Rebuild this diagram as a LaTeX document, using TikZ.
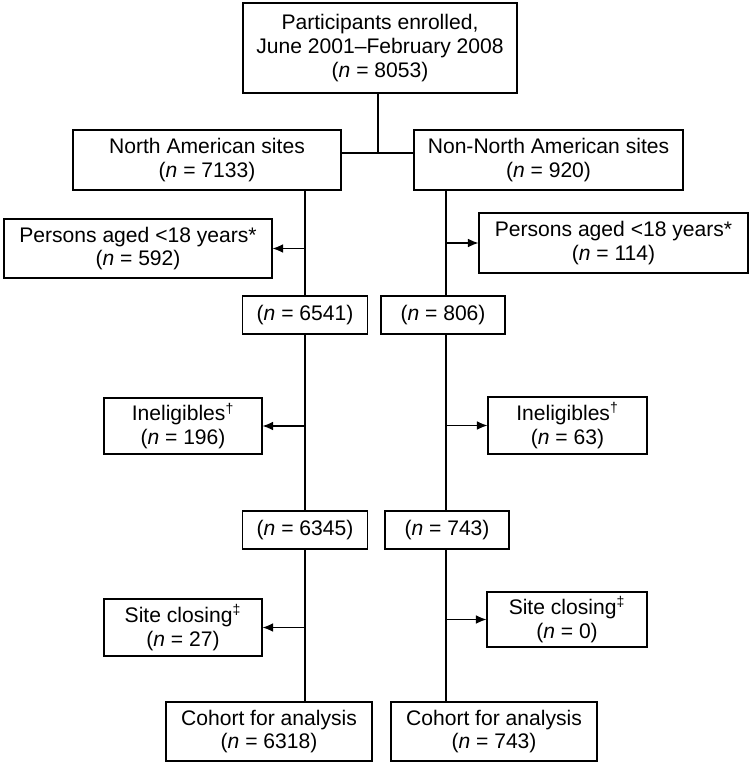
\documentclass[tikz,border=0pt]{standalone}
\usepackage{fontspec}
\setmainfont{Liberation Sans}
\usetikzlibrary{arrows.meta}

\begin{document}
\begin{tikzpicture}[x=0.02cm,y=-0.02cm,
    box/.style={draw,line width=0.7pt,align=center,inner sep=0pt,
        font=\fontsize{12}{13.6}\selectfont},
    link/.style={line width=0.7pt},
    arr/.style={line width=0.7pt,-{Latex[length=6pt,width=5pt]}}]
    \useasboundingbox (0,0) rectangle (750,766);

    % enrolment and split by region
    \node[box,minimum width=5.48cm,minimum height=1.8cm] (enrol) at (380,48)
        {Participants enrolled,\\June 2001–February 2008\\(\textit{n} = 8053)};
    \node[box,minimum width=5.36cm,minimum height=1.2cm] (na) at (207,160)
        {North American sites\\(\textit{n} = 7133)};
    \node[box,minimum width=5.38cm,minimum height=1.2cm] (nna) at (548.5,160)
        {Non-North American sites\\(\textit{n} = 920)};
    \coordinate (split) at (378,153);
    \draw[link] (enrol.south -| split) -- (split);
    \draw[link] (na.east |- split) -- (nna.west |- split);

    % north american column
    \node[box,minimum width=5.36cm,minimum height=1.18cm] (agel) at (138,248.5)
        {Persons aged <18 years*\\(\textit{n} = 592)};
    \node[box,minimum width=2.5cm,minimum height=0.76cm] (nal1) at (305,315)
        {(\textit{n} = 6541)};
    \node[box,minimum width=3.16cm,minimum height=1.12cm] (inell) at (183,426)
        {Ineligibles\textsuperscript{†}\\(\textit{n} = 196)};
    \node[box,minimum width=2.5cm,minimum height=0.76cm] (nal2) at (305,530)
        {(\textit{n} = 6345)};
    \node[box,minimum width=3.16cm,minimum height=1.14cm] (sitel) at (183,627.5)
        {Site closing\textsuperscript{‡}\\(\textit{n} = 27)};
    \node[box,minimum width=4.12cm,minimum height=1.18cm] (cohl) at (269,731.5)
        {Cohort for analysis\\(\textit{n} = 6318)};
    \draw[link] (na.south -| nal1) -- (nal1.north);
    \draw[link] (nal1.south) -- (nal2.north);
    \draw[link] (nal2.south) -- (nal2.south |- cohl.north);
    \draw[arr] (nal1.north |- agel.east) -- (agel.east);
    \draw[arr] (nal1.south |- inell.east) -- (inell.east);
    \draw[arr] (nal2.south |- sitel.east) -- (sitel.east);

    % non-north american column
    \coordinate (rx) at (446,0);
    \node[box,minimum width=5.38cm,minimum height=1.2cm] (ager) at (613.5,243)
        {Persons aged <18 years*\\(\textit{n} = 114)};
    \node[box,minimum width=2.48cm,minimum height=0.76cm] (nnal1) at (443,315)
        {(\textit{n} = 806)};
    \node[box,minimum width=3.18cm,minimum height=1.14cm] (inelr) at (567.5,425.5)
        {Ineligibles\textsuperscript{†}\\(\textit{n} = 63)};
    \node[box,minimum width=2.48cm,minimum height=0.76cm] (nnal2) at (447,530)
        {(\textit{n} = 743)};
    \node[box,minimum width=3.2cm,minimum height=1.1cm] (siter) at (567,619.5)
        {Site closing\textsuperscript{‡}\\(\textit{n} = 0)};
    \node[box,minimum width=4.12cm,minimum height=1.18cm] (cohr) at (494,731.5)
        {Cohort for analysis\\(\textit{n} = 743)};
    \draw[link] (nna.south -| rx) -- (nnal1.north -| rx);
    \draw[link] (nnal1.south -| rx) -- (nnal2.north -| rx);
    \draw[link] (nnal2.south -| rx) -- (cohr.north -| rx);
    \draw[arr] (rx |- ager.west) -- (ager.west);
    \draw[arr] (rx |- inelr.west) -- (inelr.west);
    \draw[arr] (rx |- siter.west) -- (siter.west);
\end{tikzpicture}
\end{document}
